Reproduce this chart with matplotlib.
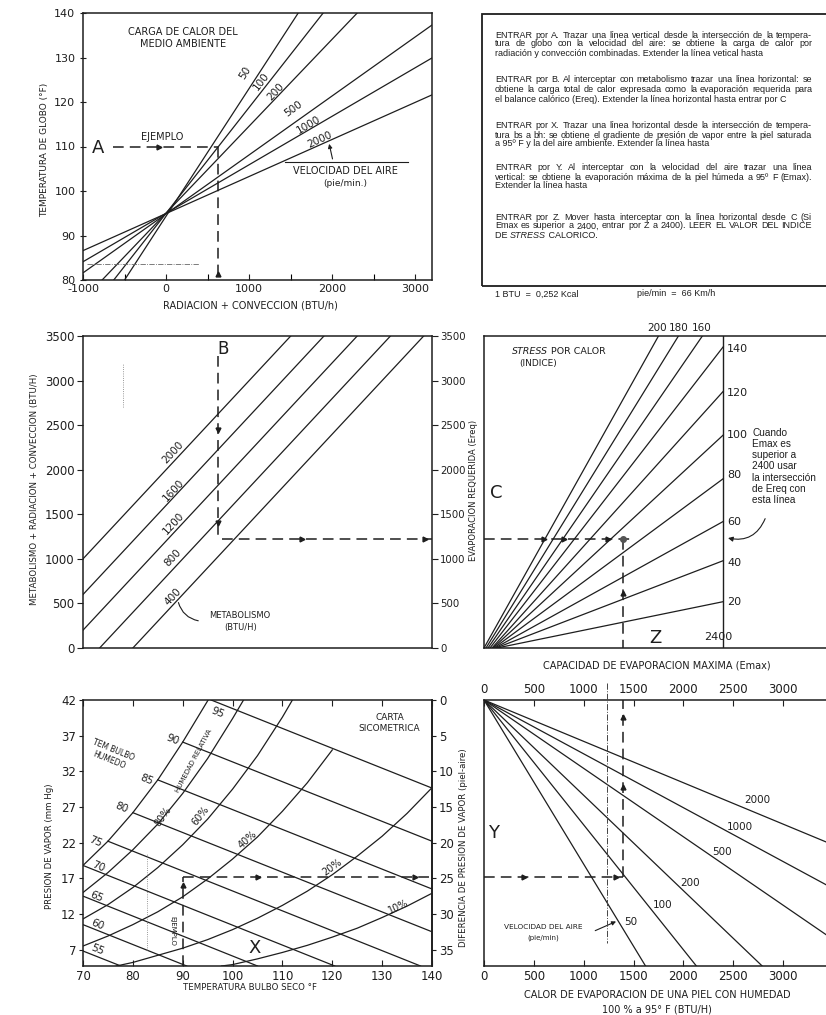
import matplotlib
matplotlib.use("Agg")
import matplotlib.pyplot as plt
from matplotlib.patches import Rectangle
from matplotlib.lines import Line2D

# ---------------- values ----------------
# A: globe temperature vs radiation + convection, one line per air speed (pie/min)
vel_a = ["50", "100", "200", "500", "1000", "2000"]
vel_a_x0 = [-500, -630, -770, -1000, -1000, -1000]
vel_a_y0 = [80, 80, 80, 81.6, 84.1, 86.6]
vel_a_x1 = [1590, 1890, 2300, 3200, 3200, 3200]
vel_a_y1 = [140, 140, 140, 137.3, 129.9, 121.6]

# B: metabolism lines (BTU/h)
metab = ["400", "800", "1200", "1600", "2000"]
metab_x0 = [-400, -800, -1000, -1000, -1000]
metab_y0 = [0, 0, 200, 600, 1000]
metab_x1 = [3100, 2700, 2300, 1900, 1500]
metab_y1 = [3500, 3500, 3500, 3500, 3500]

# C: heat stress index lines (Emax -> Ereq)
hsi = ["20", "40", "60", "80", "100", "120", "140", "160", "180", "200"]
hsi_x0 = [130, 120, 110, 100, 90, 80, 60, 40, 20, 0]
hsi_x1 = [2400, 2400, 2400, 2400, 2400, 2400, 2400, 2190, 1950, 1750]
hsi_y1 = [520, 980, 1420, 1900, 2390, 2880, 3380, 3500, 3500, 3500]

# X: psychrometric chart, relative humidity curves (dry bulb F, vapour pressure mmHg)
rh_100_t = [70, 75, 80, 85, 90, 95.1]
rh_100_p = [18.8, 22.2, 26.2, 30.8, 36.1, 42.0]
rh_80_t = [70, 75, 80, 85, 90, 95, 100, 102.2]
rh_80_p = [15.0, 17.8, 21.0, 24.6, 28.9, 33.8, 39.4, 42.0]
rh_60_t = [70, 75, 80, 85, 90, 95, 100, 105, 110, 112]
rh_60_p = [11.3, 13.3, 15.7, 18.5, 21.7, 25.3, 29.5, 34.2, 39.6, 42.0]
rh_40_t = [70, 75, 80, 85, 90, 95, 100, 105, 110, 115, 120]
rh_40_p = [7.5, 8.9, 10.5, 12.3, 14.4, 16.9, 19.7, 22.8, 26.4, 30.4, 35.0]
rh_20_t = [76.7, 80, 85, 90, 95, 100, 105, 110, 115, 120, 125, 130, 135, 140]
rh_20_p = [4.7, 5.2, 6.2, 7.2, 8.4, 9.8, 11.4, 13.2, 15.2, 17.5, 20.1, 22.9, 26.1, 29.7]
rh_10_t = [97.8, 100, 105, 110, 115, 120, 125, 130, 135, 140]
rh_10_p = [4.7, 4.9, 5.7, 6.6, 7.6, 8.75, 10.0, 11.5, 13.1, 14.9]

# wet bulb lines (start / end inside the chart)
wb = ["55", "60", "65", "70", "75", "80", "85", "90", "95"]
wb_t0 = [70, 70, 70, 70, 75, 80, 85, 90, 95.7]
wb_p0 = [6.8, 10.5, 14.5, 18.8, 22.2, 26.2, 30.8, 36.1, 42.0]
wb_t1 = [77.6, 90.8, 105, 120.5, 137.7, 140, 140, 140, 140]
wb_p1 = [4.7, 4.7, 4.7, 4.7, 4.7, 9.5, 15.5, 22.2, 29.65]

# Y: max evaporation vs vapour pressure difference, one line per air speed
vel_y = ["50", "100", "200", "500", "1000", "2000"]
vel_y_x1 = [1620, 2130, 2790, 3430, 3430, 3430]
vel_y_d1 = [37.3, 37.3, 37.3, 32.9, 25.9, 19.9]

# worked example
ex_globe, ex_rc, ex_ereq = 110, 630, 1225
ex_tdb, ex_pv, ex_dp, ex_emax = 90, 17.2, 24.8, 1390

instructions = [
    ["ENTRAR por A. Trazar una línea vertical desde la intersección de la tempera-",
     "tura de globo con la velocidad del aire: se obtiene la carga de calor por",
     "radiación y convección combinadas. Extender la línea vetical hasta"],
    ["ENTRAR por B. Al interceptar con metabolismo trazar una línea horizontal: se",
     "obtiene la carga total de calor expresada como la evaporación requerida para",
     "el balance calórico (Ereq). Extender la línea horizontal hasta entrar por C"],
    ["ENTRAR por X. Trazar una línea horizontal desde la intersección de tempera-",
     "tura bs a bh: se obtiene el gradiente de presión de vapor entre la piel saturada",
     "a 95º F y la del aire ambiente. Extender la línea hasta"],
    ["ENTRAR por Y. Al interceptar con la velocidad del aire trazar una línea",
     "vertical: se obtiene la evaporación máxima de la piel húmeda a 95º F (Emax).",
     "Extender la línea hasta"],
    ["ENTRAR por Z. Mover hasta interceptar con la línea horizontal desde C (Si",
     "Emax es superior a 2400, entrar por Z a 2400). LEER EL VALOR DEL INDICE",
     None],
]
para_y = [[35, 44, 53], [80, 89, 99], [126, 135, 144], [168, 178, 186], [217, 226, 235]]

# ---------------- drawing ----------------
W, H = 826, 1015
INK = "#1e1e1e"
LW = 0.9
DASH = (0, (7, 4))
plt.rcParams["font.family"] = ["DejaVu Sans"]
plt.rcParams["text.color"] = INK

fig = plt.figure(figsize=(W / 100, H / 100), dpi=100)
fig.patch.set_facecolor("white")


def box(l, t, r, b):
    return fig.add_axes([l / W, 1 - b / H, (r - l) / W, (b - t) / H])


def ftext(x, y, s, **kw):
    kw.setdefault("ha", "center")
    kw.setdefault("va", "center")
    return fig.text(x / W, 1 - y / H, s, **kw)


def style(ax):
    ax.set_facecolor("none")
    for s in ax.spines.values():
        s.set_linewidth(1.1)
        s.set_color(INK)
    ax.tick_params(colors=INK, labelsize=8, width=0.8, length=3)


def arrow(ax, x, y, m):
    ax.plot([x], [y], marker=m, ms=3.5, color=INK, clip_on=False)


# ---- A: carga de calor del medio ambiente ----
ax1 = box(83, 13, 432, 280)
style(ax1)
ax1.set_xlim(-1000, 3200)
ax1.set_ylim(80, 140)
for i in range(len(vel_a)):
    ax1.plot([vel_a_x0[i], vel_a_x1[i]], [vel_a_y0[i], vel_a_y1[i]], color=INK, lw=LW)
lab_pos = [(950, 126.5, 58), (1150, 124.6, 53), (1320, 122.3, 47),
           (1530, 118.4, 36), (1720, 114.8, 30), (1850, 111.6, 25)]
for s, (x, y, r) in zip(vel_a, lab_pos):
    ax1.text(x, y, s, rotation=r, fontsize=7.5, ha="center", va="center")
ax1.plot([-640, ex_rc], [ex_globe, ex_globe], color=INK, lw=1.1, ls=DASH)
ax1.plot([ex_rc, ex_rc], [ex_globe, 80], color=INK, lw=1.1, ls=DASH)
arrow(ax1, -90, ex_globe, ">")
arrow(ax1, ex_rc, 81.3, "^")
ax1.plot([-950, 400], [83.6, 83.6], color="#666", lw=0.6, ls="-.")
ax1.text(-48, 112.2, "EJEMPLO", fontsize=7, ha="center", va="center")
ax1.text(-819, 109.6, "A", fontsize=13, ha="center", va="center")
ax1.text(205, 134.3, "CARGA DE CALOR DEL\nMEDIO AMBIENTE", fontsize=7, ha="center",
         va="center", linespacing=1.25)
ax1.plot([1434, 2916], [106.45, 106.45], color=INK, lw=0.8)
ax1.text(2157, 104.5, "VELOCIDAD DEL AIRE", fontsize=7, ha="center", va="center")
ax1.text(2157, 101.7, "(pie/min.)", fontsize=6.5, ha="center", va="center")
ax1.annotate("", xy=(1955, 111.2), xytext=(2010, 106.6),
             arrowprops=dict(arrowstyle="-|>", color=INK, lw=0.8, mutation_scale=6))
ax1.set_xticks([-1000, 0, 1000, 2000, 3000])
ax1.set_xticklabels(["-1000", "0", "1000", "2000", "3000"])
ax1.set_xticks(range(-500, 3200, 1000), minor=True)
ax1.tick_params(axis="x", direction="in", length=4, pad=3)
ax1.tick_params(axis="x", which="minor", direction="in", length=4, width=0.8)
ax1.set_yticks(range(80, 141, 10))
ax1.tick_params(axis="y", direction="inout", length=5, pad=3)
ftext(45, 150, "TEMPERATURA DE GLOBO (°F)", rotation=90, fontsize=6.5)
ftext(250, 305, "RADIACION + CONVECCION (BTU/h)", fontsize=7)

# ---- B: metabolismo ----
ax2 = box(83, 336, 432, 648)
style(ax2)
ax2.set_xlim(-1000, 3200)
ax2.set_ylim(0, 3500)
for i in range(len(metab)):
    ax2.plot([metab_x0[i], metab_x1[i]], [metab_y0[i], metab_y1[i]], color=INK, lw=LW)
for s, y in zip(metab[::-1], [2190, 1772, 1402, 1010, 572]):
    ax2.text(84, y, s, rotation=47, fontsize=7.5, ha="center", va="center")
ax2.text(892, 297, "METABOLISMO\n(BTU/H)", fontsize=6, ha="center", va="center",
         linespacing=1.4)
ax2.annotate("", xy=(140, 540), xytext=(420, 300),
             arrowprops=dict(arrowstyle="-", color=INK, lw=0.8,
                             connectionstyle="arc3,rad=-0.35"))
ax2.text(687, 3354, "B", fontsize=12, ha="center", va="center")
ax2.plot([ex_rc, ex_rc], [3280, ex_ereq], color=INK, lw=1.1, ls=DASH)
ax2.plot([ex_rc + 40, 3200], [ex_ereq, ex_ereq], color=INK, lw=1.1, ls=DASH)
arrow(ax2, ex_rc, 2450, "v")
arrow(ax2, ex_rc, 1400, "v")
arrow(ax2, 1640, ex_ereq, ">")
arrow(ax2, 3110, ex_ereq, ">")
ax2.plot([-520, -520], [2700, 3200], color="#777", lw=0.6, ls=":")
ax2.set_xticks([])
ax2.set_yticks(range(0, 3501, 500))
ax2.tick_params(axis="y", direction="out", length=4, pad=2, labelsize=8.5,
                right=True, labelright=True)
for tk in ax2.yaxis.get_major_ticks():
    tk.label2.set_fontsize(7.3)
ftext(35, 489, "METABOLISMO + RADIACION + CONVECCION (BTU/H)", rotation=90, fontsize=6.2)
ftext(474, 490, "EVAPORACION REQUERIDA (Ereq)", rotation=90, fontsize=6)

# ---- C: stress por calor ----
ax3 = box(484, 336, 826, 648)
style(ax3)
ax3.spines["right"].set_visible(False)
ax3.set_xlim(0, 3430)
ax3.set_ylim(0, 3500)
ax3.set_xticks([])
ax3.set_yticks([])
for i in range(len(hsi)):
    ax3.plot([hsi_x0[i], hsi_x1[i]], [0, hsi_y1[i]], color=INK, lw=LW)
ax3.plot([2400, 2400], [0, 3500], color=INK, lw=1.0)
for s, y in zip(hsi[:7], [516, 954, 1413, 1941, 2390, 2861, 3354]):
    ax3.text(2440, y, s, fontsize=8, ha="left", va="center")
for s, x in zip(hsi[7:], [2180, 1950, 1740]):
    ax3.text(x, 3590, s, fontsize=7.5, ha="center", va="center", clip_on=False)
ax3.text(2350, 123, "2400", fontsize=8, ha="center", va="center")
ax3.text(642, 3321, "STRESS", fontsize=6.8, style="italic", ha="right", va="center")
ax3.text(672, 3321, "POR CALOR", fontsize=6.8, ha="left", va="center")
ax3.text(542, 3195, "(INDICE)", fontsize=6.5, ha="center", va="center")
ax3.text(120, 1739, "C", fontsize=13, ha="center", va="center")
ax3.text(1720, 115, "Z", fontsize=13, ha="center", va="center")
ax3.text(2690, 2470, "Cuando\nEmax es\nsuperior a\n2400 usar\nla intersección\nde Ereq con\nesta línea",
         fontsize=7.2, family="Liberation Sans", ha="left", va="top", linespacing=1.15)
ax3.annotate("", xy=(2420, 1240), xytext=(2830, 1480),
             arrowprops=dict(arrowstyle="-|>", color=INK, lw=0.8, mutation_scale=7,
                             connectionstyle="arc3,rad=-0.45"))
ax3.plot([0, 1490], [ex_ereq, ex_ereq], color=INK, lw=1.1, ls=DASH)
ax3.plot([ex_emax, ex_emax], [ex_ereq, 0], color=INK, lw=1.1, ls=DASH)
ax3.plot([ex_emax], [ex_ereq], marker="o", ms=4, color="#555")
for x in [600, 800, 1240]:
    arrow(ax3, x, ex_ereq, ">")
arrow(ax3, ex_emax, 620, "^")
ftext(657, 665, "CAPACIDAD DE EVAPORACION MAXIMA (Emax)", fontsize=7)

# ---- X: carta sicometrica ----
ax4 = box(83, 700, 432, 966)
style(ax4)
ax4.set_xlim(70, 140)
ax4.set_ylim(4.7, 42)
for t, p in [(rh_100_t, rh_100_p), (rh_80_t, rh_80_p), (rh_60_t, rh_60_p),
             (rh_40_t, rh_40_p), (rh_20_t, rh_20_p), (rh_10_t, rh_10_p)]:
    ax4.plot(t, p, color=INK, lw=LW)
for i in range(len(wb)):
    ax4.plot([wb_t0[i], wb_t1[i]], [wb_p0[i], wb_p1[i]], color=INK, lw=LW)
wb_lab = [(72.8, 7.0), (73.0, 10.5), (72.8, 14.4), (73.0, 18.6), (72.4, 22.2),
          (77.8, 26.9), (82.8, 30.8), (87.9, 36.4), (97.1, 40.2)]
for s, (x, y) in zip(wb, wb_lab):
    ax4.text(x, y, s, rotation=-22, fontsize=7.5, ha="center", va="center")
for s, x, y, r in [("80%", 86.0, 25.6, 55), ("60%", 93.5, 25.8, 52), ("40%", 103.0, 22.4, 42),
                   ("20%", 120.0, 18.6, 36), ("10%", 133.2, 13.0, 25)]:
    ax4.text(x, y, s, rotation=r, fontsize=7, ha="center", va="center")
ax4.text(92.3, 33.5, "HUMEDAD RELATIVA", rotation=62, fontsize=5, ha="center", va="center")
ax4.text(75.6, 34.3, "TEM BULBO\nHUMEDO", rotation=-22, fontsize=5.5, ha="center",
         va="center", linespacing=1.3)
ax4.text(131.5, 38.8, "CARTA\nSICOMETRICA", fontsize=6.5, ha="center", va="center",
         linespacing=1.3)
ax4.text(104.5, 7.2, "X", fontsize=13, ha="center", va="center")
ax4.text(88.0, 9.6, "EJEMPLO", rotation=-90, fontsize=5, ha="center", va="center")
ax4.plot([ex_tdb, ex_tdb], [4.7, ex_pv], color=INK, lw=1.1, ls=DASH)
ax4.plot([ex_tdb, 140], [ex_pv, ex_pv], color=INK, lw=1.1, ls=DASH)
arrow(ax4, ex_tdb, 16.0, "^")
arrow(ax4, 105, ex_pv, ">")
arrow(ax4, 136.6, ex_pv, ">")
ax4.plot([82.8, 82.8], [7, 20.5], color="#777", lw=0.6, ls=":")
ax4.set_xticks(range(70, 141, 10))
ax4.tick_params(axis="x", direction="in", length=4, top=True, pad=3, labelsize=8.5)
ax4.set_yticks(range(7, 43, 5))
ax4.tick_params(axis="y", direction="out", length=3, pad=2, labelsize=8.5)
sec = ax4.secondary_yaxis("right", functions=(lambda p: 42 - p, lambda d: 42 - d))
sec.set_yticks(range(0, 36, 5))
sec.tick_params(direction="out", length=3, pad=2, labelsize=8.5, colors=INK, width=0.8)
sec.spines["right"].set_linewidth(1.1)
ftext(50, 846, "PRESION DE VAPOR (mm Hg)", rotation=90, fontsize=6.2)
ftext(463, 848, "DIFERENCIA DE PRESION DE VAPOR (piel-aire)", rotation=90, fontsize=6.2)
ftext(250, 988, "TEMPERATURA BULBO SECO °F", fontsize=6.2)

# ---- Y: evaporacion maxima ----
ax5 = box(484, 700, 826, 966)
style(ax5)
ax5.spines["right"].set_visible(False)
ax5.set_xlim(0, 3430)
ax5.set_ylim(37.3, 0)
for i in range(len(vel_y)):
    ax5.plot([0, vel_y_x1[i]], [0, vel_y_d1[i]], color=INK, lw=LW)
for s, x, y in [("50", 1470, 31.2), ("100", 1790, 28.7), ("200", 2070, 25.6),
                ("500", 2390, 21.3), ("1000", 2570, 17.8), ("2000", 2740, 14.0)]:
    ax5.text(x, y, s, fontsize=7.5, ha="center", va="center")
ax5.text(100, 18.6, "Y", fontsize=13, ha="center", va="center")
ax5.text(590, 31.9, "VELOCIDAD DEL AIRE", fontsize=5.3, ha="center", va="center")
ax5.text(590, 33.4, "(pie/min)", fontsize=5, ha="center", va="center")
ax5.annotate("", xy=(1350, 30.9), xytext=(1090, 32.5),
             arrowprops=dict(arrowstyle="-|>", color=INK, lw=0.8, mutation_scale=6))
ax5.plot([0, ex_emax], [ex_dp, ex_dp], color=INK, lw=1.1, ls=DASH)
ax5.plot([ex_emax, ex_emax], [ex_dp, 0], color=INK, lw=1.1, ls=DASH)
arrow(ax5, 400, ex_dp, ">")
arrow(ax5, 1320, ex_dp, ">")
arrow(ax5, ex_emax, 2.4, "^")
arrow(ax5, ex_emax, 12.2, "^")
ax5.set_yticks([])
ax5.set_xticks(range(0, 3001, 500))
ax5.tick_params(axis="x", direction="in", length=4, top=True, labeltop=True,
                pad=3, labelsize=8.5)
ftext(657, 995, "CALOR DE EVAPORACION DE UNA PIEL CON HUMEDAD", fontsize=7)
ftext(657, 1009, "100 % a 95° F (BTU/H)", fontsize=7)

# dash-dot guide crossing from the Emax scale down into panel Y
fig.add_artist(Line2D([606.5 / W, 606.5 / W], [1 - 683 / H, 1 - 943 / H],
                      color="#444", lw=0.7, ls="-."))

# ---- instruction box ----
fig.add_artist(Rectangle((482 / W, 1 - 286 / H), 360 / W, 272 / H, fill=False,
                         ec=INK, lw=1.3, transform=fig.transFigure))
PF = "Liberation Sans"
PS = 6.5
renderer = fig.canvas.get_renderer()
X0, X1 = 495, 812


def justified(ypx, words):
    ts = [fig.text(0, 1 - ypx / H, w, family=PF, size=PS, va="center", ha="left",
                   color=INK) for w in words]
    ws = [t.get_window_extent(renderer=renderer).width for t in ts]
    gap = (X1 - X0 - sum(ws)) / (len(ws) - 1)
    x = X0
    for t, w in zip(ts, ws):
        t.set_x(x / W)
        x += w + gap


for lines, ys in zip(instructions, para_y):
    for k, (s, y) in enumerate(zip(lines, ys)):
        if s is None:
            t1 = ftext(X0, y, "DE ", family=PF, size=PS, ha="left")
            w1 = t1.get_window_extent(renderer=renderer).width
            t2 = ftext(X0 + w1, y, "STRESS", family=PF, size=PS, style="italic", ha="left")
            w2 = t2.get_window_extent(renderer=renderer).width
            ftext(X0 + w1 + w2, y, " CALORICO.", family=PF, size=PS, ha="left")
        elif k < 2:
            justified(y, s.split())
        else:
            ftext(X0, y, s, family=PF, size=PS, ha="left")

ftext(495, 294, "1 BTU  =  0,252 Kcal", family=PF, size=PS, ha="left")
ftext(637, 294, "pie/min  =  66 Km/h", family=PF, size=PS, ha="left")

fig.savefig("out.png", dpi=100, facecolor="white")
